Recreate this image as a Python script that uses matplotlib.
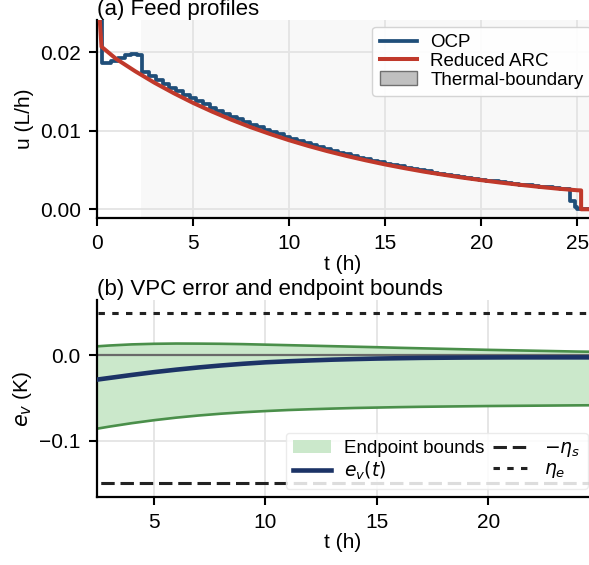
import numpy as np
import matplotlib
matplotlib.use("Agg")
import matplotlib.pyplot as plt
from matplotlib.patches import Patch

plt.rcParams['font.family'] = ['Liberation Sans', 'DejaVu Sans']
plt.rcParams['axes.unicode_minus'] = True

# ---------------- (a) Feed profiles ----------------
thermal_boundary_start = 2.33

ocp_t_early = [0.0, 0.25, 0.75, 1.1, 1.45, 1.8, 2.1]
ocp_u_early = [0.0300, 0.0186, 0.0189, 0.0192, 0.0196, 0.0198, 0.0197]
ocp_t_mid = list(np.round(2.38 + 0.35 * np.arange(63), 3))
ocp_u_mid = [0.01745, 0.01694, 0.01645, 0.01597, 0.01550, 0.01505, 0.01461,
             0.01418, 0.01377, 0.01337, 0.01290, 0.01252, 0.01215, 0.01179,
             0.01144, 0.01110, 0.01077, 0.01045, 0.01014, 0.00983, 0.00953,
             0.00924, 0.00896, 0.00869, 0.00843, 0.00818, 0.00793, 0.00769,
             0.00745, 0.00722, 0.00700, 0.00679, 0.00658, 0.00638, 0.00619,
             0.00600, 0.00582, 0.00564, 0.00547, 0.00530, 0.00514, 0.00498,
             0.00483, 0.00468, 0.00454, 0.00440, 0.00427, 0.00414, 0.00401,
             0.00389, 0.00377, 0.00366, 0.00355, 0.00344, 0.00334, 0.00324,
             0.00314, 0.00305, 0.00296, 0.00287, 0.00278, 0.00270, 0.00262]
ocp_t_end = [24.43, 24.6, 24.88, 24.97, 26.0]
ocp_u_end = [0.00254, 0.0011, 0.0003, 0.0, 0.0]

ocp_t = ocp_t_early + ocp_t_mid + ocp_t_end
ocp_u = ocp_u_early + ocp_u_mid + ocp_u_end

arc_t = [0.0, 0.25, 1, 2, 3, 4, 5, 6, 7, 8, 9, 10, 11, 12, 13, 14, 15, 16, 17,
         18, 19, 20, 21, 22, 23, 24, 25, 25.2, 25.2, 26.0]
arc_u = [0.0300, 0.0207, 0.01917, 0.01758, 0.01612, 0.01479, 0.01356, 0.01244,
         0.01141, 0.01046, 0.00960, 0.00880, 0.00807, 0.00740, 0.00679,
         0.00623, 0.00571, 0.00524, 0.00480, 0.00441, 0.00404, 0.00371,
         0.00340, 0.00312, 0.00286, 0.00262, 0.00242, 0.00240, 0.0, 0.0]

# ---------------- (b) VPC error ----------------
ev_t = [2.43, 3, 4, 5, 6, 7, 8, 9, 10, 11, 12, 13, 14, 15, 16, 17, 18, 19, 20,
        21, 22, 23, 24, 24.6]
ev = [-0.0285, -0.0265, -0.0230, -0.0197, -0.0168, -0.0142, -0.0119, -0.0099,
      -0.0082, -0.0070, -0.0060, -0.0051, -0.0044, -0.0038, -0.0034, -0.0030,
      -0.0028, -0.0026, -0.0025, -0.0024, -0.0024, -0.0024, -0.0024, -0.0024]
bound_hi = [0.0105, 0.0115, 0.0128, 0.0135, 0.0138, 0.0137, 0.0135, 0.0131,
            0.0125, 0.0119, 0.0113, 0.0107, 0.0101, 0.0095, 0.0088, 0.0082,
            0.0076, 0.0070, 0.0064, 0.0059, 0.0054, 0.0049, 0.0044, 0.0042]
bound_lo = [-0.0860, -0.0835, -0.0795, -0.0760, -0.0730, -0.0705, -0.0684,
            -0.0667, -0.0653, -0.0641, -0.0632, -0.0624, -0.0617, -0.0612,
            -0.0607, -0.0603, -0.0600, -0.0597, -0.0594, -0.0592, -0.0590,
            -0.0588, -0.0586, -0.0585]
eta_s = 0.15
eta_e = 0.05

# ---------------- figure ----------------
W, H = 589, 565
fig = plt.figure(figsize=(W / 100, H / 100), dpi=100)
L = 96.7
ax1 = fig.add_axes([L / W, (H - 218.3) / H, 1 - L / W, (218.3 - 20) / H])
ax2 = fig.add_axes([L / W, (H - 496.7) / H, 1 - L / W, (496.7 - 300) / H])

FS_TICK = 15
FS_LEG = 13.5

for ax in (ax1, ax2):
    for s in ('top', 'right'):
        ax.spines[s].set_visible(False)
    for s in ('left', 'bottom'):
        ax.spines[s].set_linewidth(1.6)
    ax.tick_params(direction='out', length=5.5, width=1.5, pad=6,
                   labelsize=FS_TICK)
    ax.grid(True, color='#e4e4e4', lw=1.3)
    ax.set_axisbelow(True)

# (a)
ax1.axvspan(thermal_boundary_start, 30, color='#f8f8f8', lw=0, zorder=0)
ax1.step(ocp_t, ocp_u, where='post', color='#1f4e79', lw=2.7, label='OCP',
         zorder=3)
ax1.plot(arc_t, arc_u, color='#c0392b', lw=2.9, label='Reduced ARC', zorder=4)
ax1.set_xlim(0, 25.61)
ax1.set_ylim(-0.00115, 0.0241)
ax1.set_xticks([0, 5, 10, 15, 20, 25])
ax1.set_yticks([0.0, 0.01, 0.02])
ax1.set_yticklabels(['0.00', '0.01', '0.02'])
ax1.set_xlabel('t (h)', fontsize=FS_TICK, labelpad=1)
ax1.set_ylabel('u (L/h)', fontsize=FS_TICK, labelpad=4)
ax1.set_title('(a) Feed profiles', loc='left', fontsize=16, pad=3)
h1, l1 = ax1.get_legend_handles_labels()
h1.append(Patch(facecolor='#c0c0c0', edgecolor='#707070', lw=1.0))
l1.append('Thermal-boundary')
ax1.legend(h1, l1, loc='upper right', bbox_to_anchor=(1.012, 0.985),
           fontsize=FS_LEG, labelspacing=0.08, framealpha=0.9,
           edgecolor='#d0d0d0', borderaxespad=0.2, handletextpad=0.7)

# (b)
ax2.axhline(0, color='#6a6a6a', lw=1.6, zorder=2)
fb = ax2.fill_between(ev_t, bound_lo, bound_hi, color='#cbe8cb', lw=0,
                      zorder=1, label='Endpoint bounds')
ax2.plot(ev_t, bound_hi, color='#4a8f4a', lw=1.9, zorder=2)
ax2.plot(ev_t, bound_lo, color='#4a8f4a', lw=1.9, zorder=2)
lev, = ax2.plot(ev_t, ev, color='#1c3366', lw=3.3, zorder=3,
                label='$e_v(t)$')
ls_, = ax2.plot([0, 30], [-eta_s, -eta_s], color='#222222', lw=2.2,
                linestyle=(0, (4.4, 1.9)), label=r'$-\eta_s$', zorder=2)
le_, = ax2.plot([0, 30], [eta_e, eta_e], color='#222222', lw=2.2,
                linestyle=(0, (2.1, 2.4)), label=r'$\eta_e$', zorder=2)
ax2.set_xlim(2.43, 24.52)
ax2.set_ylim(-0.1656, 0.0648)
ax2.set_xticks([5, 10, 15, 20])
ax2.set_yticks([-0.1, 0.0])
ax2.set_yticklabels(['\u22120.1', '0.0'])
ax2.set_xlabel('t (h)', fontsize=FS_TICK, labelpad=1)
ax2.set_ylabel('$e_v$ (K)', fontsize=FS_TICK, labelpad=4)
ax2.set_title('(b) VPC error and endpoint bounds', loc='left', fontsize=16,
              pad=3)
ax2.legend([fb, lev, ls_, le_],
           ['Endpoint bounds', '$e_v(t)$', r'$-\eta_s$', r'$\eta_e$'],
           ncol=2, loc='lower right', bbox_to_anchor=(1.005, 0.02),
           fontsize=FS_LEG, labelspacing=0.1, columnspacing=0.5,
           handletextpad=0.7, framealpha=0.85, edgecolor='#e8e8e8',
           borderaxespad=0.2)

fig.savefig('out.png', dpi=100)
